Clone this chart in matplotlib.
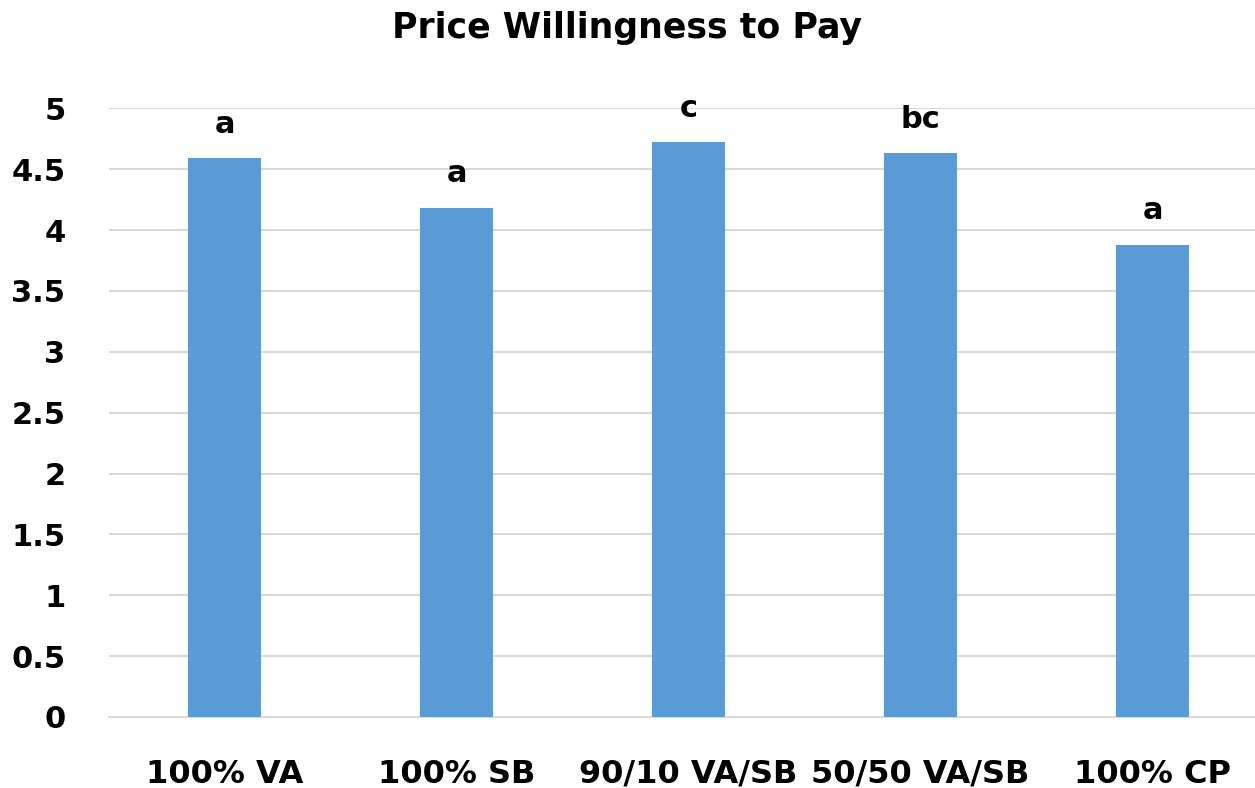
import matplotlib
matplotlib.use("Agg")
import matplotlib.pyplot as plt

categories = ["100% VA", "100% SB", "90/10 VA/SB", "50/50 VA/SB", "100% CP"]
values = [4.59, 4.185, 4.72, 4.63, 3.88]
letters = ["a", "a", "c", "bc", "a"]
yticks = [0, 0.5, 1, 1.5, 2, 2.5, 3, 3.5, 4, 4.5, 5]
ytick_labels = ["0", "0.5", "1", "1.5", "2", "2.5", "3", "3.5", "4", "4.5", "5"]

plt.rcParams["font.family"] = ["DejaVu Sans"]
plt.rcParams["font.weight"] = "bold"


def main() -> None:
    fig = plt.figure(figsize=(12.55, 7.88), dpi=100)
    ax = fig.add_axes([108.5 / 1255, 1 - 717 / 788, 1 - 108.5 / 1255, (717 - 108.3) / 788])

    x = list(range(len(categories)))
    ax.bar(x, values, width=0.315, color="#5b9bd5", zorder=3)
    for xi, v, lab in zip(x, values, letters):
        ax.annotate(lab, (xi, v), xytext=(0, 14), textcoords="offset points",
                    ha="center", va="bottom", fontsize=22, fontweight="bold")

    ax.set_xlim(-0.5, (1255 - 224.5) / 232)
    ax.set_ylim(0, 5)
    ax.set_yticks(yticks)
    ax.set_yticklabels(ytick_labels)
    ax.set_xticks(x)
    ax.set_xticklabels(categories)
    ax.tick_params(axis="y", length=0, pad=31, labelsize=22)
    ax.tick_params(axis="x", length=0, pad=30, labelsize=23)

    ax.grid(axis="y", color="#d9d9d9", linewidth=1.5, zorder=0)
    for side in ["top", "right", "left"]:
        ax.spines[side].set_visible(False)
    ax.spines["bottom"].set_color("#d9d9d9")
    ax.spines["bottom"].set_linewidth(1.5)

    fig.text(0.5, 1 - 28 / 788, "Price Willingness to Pay", ha="center", va="center",
             fontsize=25, fontweight="bold")

    fig.savefig("out.png", dpi=100)


if __name__ == "__main__":
    main()
